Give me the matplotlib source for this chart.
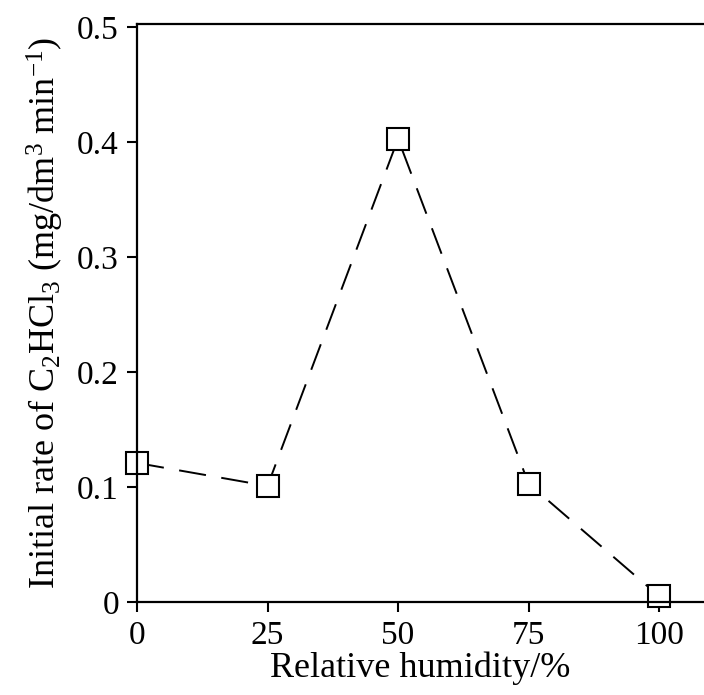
import matplotlib
matplotlib.use('Agg')
import matplotlib.pyplot as plt

humidity = [0, 25, 50, 75, 100]
rate = [0.121, 0.101, 0.403, 0.103, 0.005]
x_ticks = [0, 25, 50, 75, 100]
y_ticks = [0, 0.1, 0.2, 0.3, 0.4, 0.5]
y_ticklabels = ['0', '0.1', '0.2', '0.3', '0.4', '0.5']

plt.rcParams['font.family'] = 'Liberation Serif'
plt.rcParams['mathtext.fontset'] = 'custom'
plt.rcParams['mathtext.rm'] = 'Liberation Serif'
plt.rcParams['mathtext.it'] = 'Liberation Serif:italic'

fig = plt.figure(figsize=(7.04, 6.95), dpi=100)
ax = fig.add_axes([0.1946, 0.1338, 0.8054, 0.8317])

ax.plot(humidity, rate, color='black', linestyle=(0, (14, 8)), linewidth=1.4,
        marker='s', markersize=16, markerfacecolor='white',
        markeredgecolor='black', markeredgewidth=1.5, clip_on=False)

ax.set_xlim(0, 108.6)
ax.set_ylim(0, 0.503)
ax.set_xticks(x_ticks)
ax.set_yticks(y_ticks)
ax.set_yticklabels(y_ticklabels)
ax.tick_params(direction='out', length=7, width=1.5, labelsize=24)
ax.tick_params(axis='x', pad=6)
ax.tick_params(axis='y', pad=6)
ax.spines['right'].set_visible(False)
for s in ['left', 'bottom', 'top']:
    ax.spines[s].set_linewidth(1.6)

ax.set_xlabel('Relative humidity/%', fontsize=26, labelpad=1)
ax.set_ylabel('Initial rate of C$_2$HCl$_3$ (mg/dm$^3$ min$^{-1}$)', fontsize=26, labelpad=8)

fig.savefig('out.png', dpi=100)
